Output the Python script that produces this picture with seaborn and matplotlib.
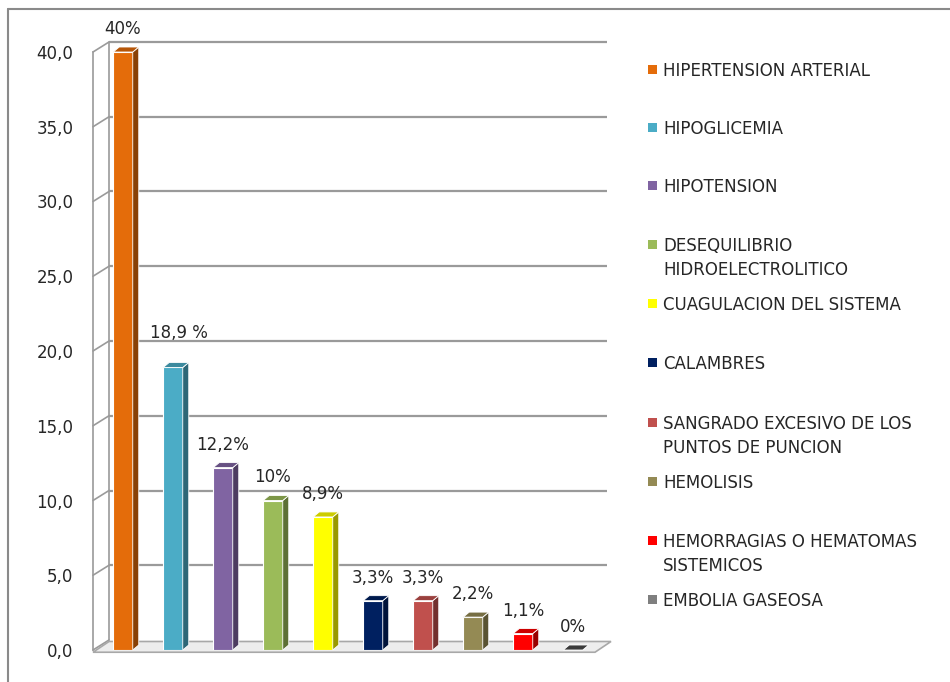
import numpy as np
import pandas as pd
import seaborn as sns
import matplotlib.pyplot as plt
from matplotlib.patches import Polygon
from matplotlib.colors import to_rgb

# datos
complicaciones = ["HIPERTENSION ARTERIAL", "HIPOGLICEMIA", "HIPOTENSION",
                  "DESEQUILIBRIO\nHIDROELECTROLITICO", "CUAGULACION DEL SISTEMA",
                  "CALAMBRES", "SANGRADO EXCESIVO DE LOS\nPUNTOS DE PUNCION",
                  "HEMOLISIS", "HEMORRAGIAS O HEMATOMAS\nSISTEMICOS", "EMBOLIA GASEOSA"]
porcentajes = [40.0, 18.9, 12.2, 10.0, 8.9, 3.3, 3.3, 2.2, 1.1, 0.0]
etiquetas = ["40%", "18,9 %", "12,2%", "10%", "8,9%", "3,3%", "3,3%", "2,2%", "1,1%", "0%"]
colores = ["#E46C0A", "#4BACC6", "#8064A2", "#9BBB59", "#FFFF00",
           "#002060", "#C0504D", "#948A54", "#FF0000", "#7F7F7F"]
yticks = [0, 5, 10, 15, 20, 25, 30, 35, 40]

sns.set_theme(style="white")
plt.rcParams['font.family'] = ['DejaVu Sans']

fig = plt.figure(figsize=(9.5, 6.82), dpi=100)
ax = fig.add_axes([93 / 950, 32 / 682, 505 / 950, 598 / 682])

df = pd.DataFrame({"complicacion": complicaciones, "pct": porcentajes})
sns.barplot(data=df, x="complicacion", y="pct", hue="complicacion", palette=colores,
            saturation=1, width=0.39, edgecolor="white", linewidth=0.8, legend=False,
            ax=ax, zorder=5)

XMIN, XMAX = -0.6, 9.5
ax.set_xlim(XMIN, XMAX)
ax.set_ylim(0, 40)
DX, DY = 16 / 50, 10 / 14.95   # profundidad de la pared (pixeles -> datos)
bx, by = 6 / 50, 5 / 14.95     # profundidad de cada barra

# pared del fondo: lineas de rejilla y diagonales
gcol = "#9a9a9a"
ax.hlines([t + DY for t in yticks[1:]], XMIN + DX, 9.68, color=gcol, lw=1.6,
          clip_on=False, zorder=1)
ax.plot([XMIN + DX, XMIN + DX], [DY, 40 + DY], color=gcol, lw=1.2, clip_on=False, zorder=1)
for t in yticks:
    ax.plot([XMIN, XMIN + DX], [t, t + DY], color=gcol, lw=1.2, clip_on=False, zorder=1)

# piso
piso = Polygon([(XMIN, -0.15), (9.44, -0.15), (9.44 + DX, DY - 0.1), (XMIN + DX, DY - 0.1)],
               closed=True, facecolor="#ededed", edgecolor="#a8a8a8", lw=1.2,
               clip_on=False, zorder=2)
ax.add_patch(piso)

# caras laterales y superiores de las barras
for bar, c, v in zip(ax.patches, colores, porcentajes):
    x0 = bar.get_x()
    w = bar.get_width()
    h = bar.get_height()
    rgb = np.array(to_rgb(c))
    lado = Polygon([(x0 + w, 0), (x0 + w + bx, by), (x0 + w + bx, h + by), (x0 + w, h)],
                   closed=True, facecolor=rgb * 0.6, edgecolor="white", lw=0.6,
                   clip_on=False, zorder=5)
    arriba_col = rgb * 0.8 if v > 0 else "#3a3a3a"
    arriba = Polygon([(x0, h), (x0 + w, h), (x0 + w + bx, h + by), (x0 + bx, h + by)],
                     closed=True, facecolor=arriba_col, edgecolor="white", lw=0.6,
                     clip_on=False, zorder=5)
    ax.add_patch(lado)
    ax.add_patch(arriba)

# etiquetas de datos
for i, (v, txt) in enumerate(zip(porcentajes, etiquetas)):
    dx, dy = (6, 34) if i == 1 else (0, 23)
    ax.annotate(txt, xy=(i, v), xytext=(dx, dy), textcoords="offset pixels",
                ha="center", va="center", fontsize=12, color="#262626",
                annotation_clip=False)

ax.set_yticks(yticks)
ax.set_yticklabels([f"{t:.1f}".replace(".", ",") for t in yticks], fontsize=12, color="#262626")
ax.tick_params(axis="y", length=0, pad=14)
ax.set_xticks([])
ax.set_xlabel("")
ax.set_ylabel("")
ax.grid(False)
for s in ["top", "right", "bottom"]:
    ax.spines[s].set_visible(False)
ax.spines["left"].set_color(gcol)
ax.spines["left"].set_linewidth(1.2)
ax.patch.set_alpha(0)

# leyenda manual
ys_leyenda = [70, 128, 186, 245, 304, 363, 423, 482, 541, 600]
for lab, c, yl in zip(complicaciones, colores, ys_leyenda):
    fig.patches.append(plt.Rectangle((648 / 950, 1 - (yl + 4) / 682), 9 / 950, 9 / 682,
                                     transform=fig.transFigure, facecolor=c, edgecolor="none"))
    fig.text(663 / 950, 1 - (yl - 8) / 682, lab, ha="left", va="top", fontsize=12,
             color="#262626", linespacing=1.4)

# borde del grafico
fig.add_artist(plt.Line2D([8 / 950, 8 / 950], [0, 1 - 9 / 682], color="#8a8a8a", lw=1.5))
fig.add_artist(plt.Line2D([8 / 950, 1], [1 - 9 / 682, 1 - 9 / 682], color="#8a8a8a", lw=1.5))

fig.savefig("out.png", dpi=100)
